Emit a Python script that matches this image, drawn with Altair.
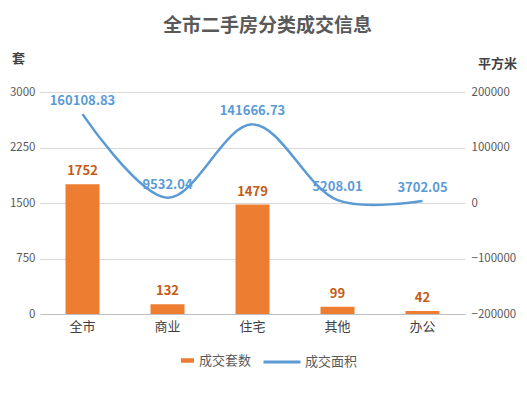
import altair as alt
import pandas as pd

categories = ["全市", "商业", "住宅", "其他", "办公"]
units = [1752, 132, 1479, 99, 42]
areas = [160108.83, 9532.04, 141666.73, 5208.01, 3702.05]
area_labels = ["160108.83", "9532.04", "141666.73", "5208.01", "3702.05"]
series_names = ["成交套数", "成交面积"]
left_ticks = [0, 750, 1500, 2250, 3000]
right_ticks = [-200000, -100000, 0, 100000, 200000]

df = pd.DataFrame({"cat": categories, "units": units, "area": areas, "area_label": area_labels,
                   "s1": [series_names[0]] * len(categories),
                   "s2": [series_names[1]] * len(categories)})

FONT = "Noto Sans CJK SC"
ORANGE = "#ED7D31"
BLUE = "#5B9BD5"

xscale = alt.Scale(domain=categories, paddingInner=0.6, paddingOuter=0.3)
xaxis = alt.Axis(title=None, ticks=False, labelPadding=6, labelFontSize=13, labelColor="#404040",
                 labelFont=FONT, domainColor="#BFBFBF", grid=False, labelAngle=0)

yl = alt.Y("units:Q", scale=alt.Scale(domain=[0, 3000]),
           axis=alt.Axis(values=left_ticks, format="d", title="套", titleAngle=0, titleX=-22, titleY=-34,
                         titleAlign="center", titleBaseline="middle", titleFontSize=13,
                         titleFontWeight="bold", titleColor="#404040", titleFont=FONT,
                         ticks=False, domain=False, labelPadding=5, labelFontSize=11.5,
                         labelColor="#595959", labelFont=FONT, grid=True, gridColor="#D9D9D9"))
yr = alt.Y("area:Q", scale=alt.Scale(domain=[-200000, 200000]),
           axis=alt.Axis(orient="right", values=right_ticks, format="d", title="平方米", titleAngle=0,
                         titleX=32, titleY=-29, titleAlign="center", titleBaseline="middle",
                         titleFontSize=13, titleFontWeight="bold", titleColor="#404040", titleFont=FONT,
                         ticks=False, domain=False, labelPadding=6, labelFontSize=11.5,
                         labelColor="#595959", labelFont=FONT, grid=False))

base = alt.Chart(df)

bars = base.mark_bar().encode(
    x=alt.X("cat:N", sort=categories, scale=xscale, axis=xaxis),
    y=yl,
    fill=alt.Fill("s1:N", scale=alt.Scale(domain=[series_names[0]], range=[ORANGE]),
                  legend=alt.Legend(title=None, orient="none", legendX=141, legendY=262,
                                    symbolType="M-1,-0.35L1,-0.35L1,0.35L-1,0.35Z",
                                    symbolSize=169, labelFontSize=13, labelColor="#595959",
                                    labelFont=FONT, labelOffset=5, symbolStrokeWidth=0)),
)
bar_text = base.mark_text(dy=-13, fontSize=13, fontWeight="bold", color="#C55A11", font=FONT).encode(
    x=alt.X("cat:N", sort=categories, scale=xscale, bandPosition=0.5),
    y=yl,
    text=alt.Text("units:Q"),
)

line = base.mark_line(interpolate="catmull-rom", strokeWidth=2.5).encode(
    x=alt.X("cat:N", sort=categories, scale=xscale, bandPosition=0.5),
    y=yr,
    stroke=alt.Stroke("s2:N", scale=alt.Scale(domain=[series_names[1]], range=[BLUE]),
                      legend=alt.Legend(title=None, orient="none", legendX=222, legendY=250,
                                        symbolType="stroke", symbolSize=1369, symbolStrokeWidth=3,
                                        labelFontSize=13, labelColor="#595959", labelFont=FONT,
                                        labelOffset=3)),
)
line_text = base.mark_text(dy=-13, fontSize=13, fontWeight="bold", color=BLUE, font=FONT).encode(
    x=alt.X("cat:N", sort=categories, scale=xscale, bandPosition=0.5),
    y=yr,
    text="area_label:N",
)

left = alt.layer(bars, bar_text)
right = alt.layer(line, line_text)

chart = alt.layer(left, right).resolve_scale(y="independent").properties(
    width=425, height=222,
    autosize="none",
    padding={"left": 32, "top": 84, "right": 54, "bottom": 73},
    title=alt.TitleParams("全市二手房分类成交信息", fontSize=19, fontWeight="bold", color="#595959",
                          font=FONT, anchor="middle", dx=15, offset=16),
).configure_view(stroke=None)

chart.save("out.html", embed_options={"renderer": "svg", "actions": False})
